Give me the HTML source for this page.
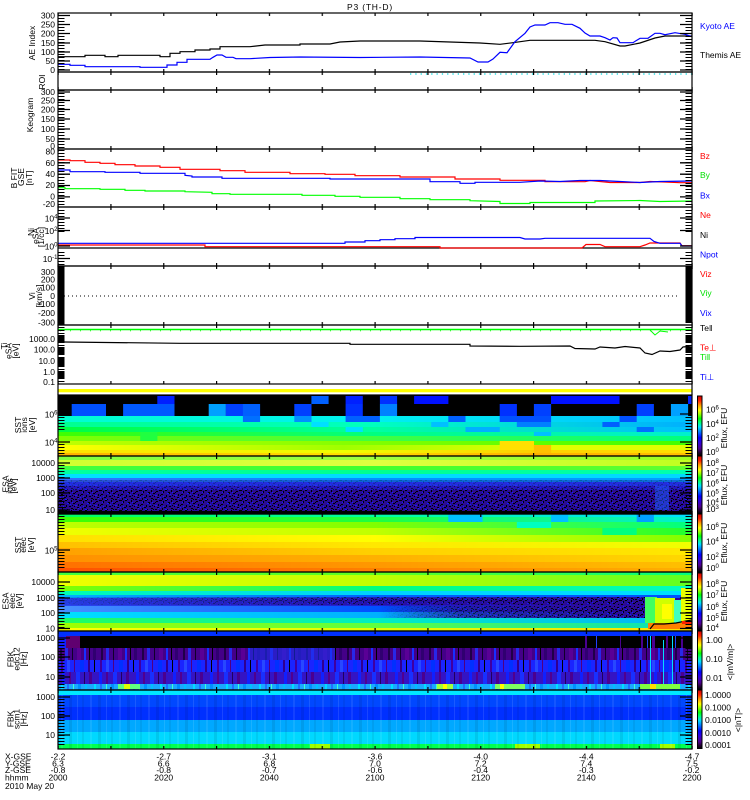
<!DOCTYPE html>
<html><head><meta charset="utf-8"><title>P3 (TH-D)</title>
<style>
html,body{margin:0;padding:0;background:#fff;width:750px;height:800px;overflow:hidden}
svg{display:block}
text{font-family:"Liberation Sans",sans-serif;font-size:8.5px;fill:#000}
</style></head><body>
<svg width="750" height="800" viewBox="0 0 750 800" xmlns="http://www.w3.org/2000/svg">
<defs>
<linearGradient id="cbar" x1="0" y1="1" x2="0" y2="0">
<stop offset="0" stop-color="#000"/><stop offset="0.05" stop-color="#200030"/><stop offset="0.12" stop-color="#500090"/>
<stop offset="0.22" stop-color="#3000e0"/><stop offset="0.3" stop-color="#0000ff"/><stop offset="0.4" stop-color="#0080ff"/>
<stop offset="0.48" stop-color="#00e0ff"/><stop offset="0.55" stop-color="#00ff80"/><stop offset="0.62" stop-color="#00ff00"/>
<stop offset="0.7" stop-color="#a0ff00"/><stop offset="0.76" stop-color="#ffff00"/><stop offset="0.84" stop-color="#ffa000"/>
<stop offset="0.92" stop-color="#ff2000"/><stop offset="1" stop-color="#d00000"/>
</linearGradient>
<pattern id="ty" x="0" y="0" width="10" height="3" patternUnits="userSpaceOnUse"><rect width="10" height="1" fill="#000"/></pattern>
<pattern id="tx" x="57.5" y="0" width="52.833" height="10" patternUnits="userSpaceOnUse"><rect width="1.2" height="10" fill="#000"/></pattern>
<pattern id="spk" x="0" y="0" width="20" height="10" patternUnits="userSpaceOnUse">
<rect width="20" height="10" fill="#260c96"/>
<g fill="#000"><rect x="0" y="0" width="2" height="1"/><rect x="3" y="1" width="1" height="2"/><rect x="5" y="0" width="2" height="1"/><rect x="8" y="2" width="2" height="1"/><rect x="11" y="0" width="1" height="2"/><rect x="13" y="3" width="2" height="1"/><rect x="16" y="1" width="2" height="1"/><rect x="18" y="4" width="1" height="2"/><rect x="1" y="4" width="2" height="1"/><rect x="6" y="5" width="1" height="2"/><rect x="9" y="6" width="2" height="1"/><rect x="14" y="6" width="1" height="1"/><rect x="17" y="7" width="2" height="1"/><rect x="2" y="8" width="1" height="2"/><rect x="4" y="7" width="2" height="1"/><rect x="11" y="8" width="2" height="1"/><rect x="15" y="9" width="2" height="1"/><rect x="7" y="9" width="1" height="1"/><rect x="19" y="0" width="1" height="1"/><rect x="12" y="5" width="1" height="1"/><rect x="9" y="3" width="1" height="1"/><rect x="15" y="2" width="1" height="1"/><rect x="0" y="5" width="1" height="1"/><rect x="13" y="9" width="1" height="1"/></g>
<g fill="#1818ff"><rect x="2" y="2" width="1" height="1"/><rect x="7" y="3" width="2" height="1"/><rect x="12" y="2" width="1" height="1"/><rect x="15" y="5" width="2" height="1"/><rect x="3" y="6" width="1" height="1"/><rect x="10" y="4" width="1" height="1"/><rect x="18" y="8" width="1" height="1"/><rect x="5" y="9" width="2" height="1"/><rect x="0" y="7" width="1" height="1"/></g>
<g fill="#500080"><rect x="4" y="3" width="1" height="1"/><rect x="9" y="0" width="1" height="1"/><rect x="14" y="1" width="1" height="1"/><rect x="17" y="3" width="1" height="1"/><rect x="8" y="8" width="1" height="1"/><rect x="13" y="7" width="1" height="1"/><rect x="1" y="9" width="1" height="1"/><rect x="16" y="6" width="1" height="1"/></g>
</pattern>
<linearGradient id="fadeIn" x1="0" x2="1" y1="0" y2="0"><stop offset="0" stop-color="#fff" stop-opacity="0.15"/><stop offset="0.45" stop-color="#fff" stop-opacity="0.6"/><stop offset="1" stop-color="#fff" stop-opacity="1"/></linearGradient>
<mask id="mfade" maskContentUnits="objectBoundingBox"><rect width="1" height="1" fill="url(#fadeIn)"/></mask>
<linearGradient id="fadeIn2" x1="0" x2="1" y1="0" y2="0"><stop offset="0" stop-color="#fff" stop-opacity="0"/><stop offset="0.3" stop-color="#fff" stop-opacity="0.7"/><stop offset="1" stop-color="#fff" stop-opacity="1"/></linearGradient>
<mask id="mfade2" maskContentUnits="objectBoundingBox"><rect width="1" height="1" fill="url(#fadeIn2)"/></mask>
<pattern id="st1" x="58" y="0" width="41" height="12" patternUnits="userSpaceOnUse"><rect width="41" height="12" fill="#440088"/><rect x="2" width="2" height="12" fill="#20004a"/><rect x="7" width="3" height="12" fill="#2828e8"/><rect x="14" width="1" height="12" fill="#10002a"/><rect x="19" width="4" height="12" fill="#5a0096"/><rect x="26" width="2" height="12" fill="#1830ff"/><rect x="31" width="1" height="12" fill="#000"/><rect x="35" width="3" height="12" fill="#300070"/></pattern>
<pattern id="st2" x="58" y="0" width="39" height="12" patternUnits="userSpaceOnUse"><rect width="39" height="12" fill="#1a24ff"/><rect x="3" width="2" height="12" fill="#4000a0"/><rect x="9" width="3" height="12" fill="#2848ff"/><rect x="16" width="1" height="12" fill="#500080"/><rect x="22" width="4" height="12" fill="#0030ff"/><rect x="30" width="2" height="12" fill="#300090"/><rect x="36" width="1" height="12" fill="#000"/></pattern>
<pattern id="st3" x="58" y="0" width="37" height="12" patternUnits="userSpaceOnUse"><rect width="37" height="12" fill="#3414c4"/><rect x="4" width="3" height="12" fill="#1020ff"/><rect x="11" width="2" height="12" fill="#500090"/><rect x="18" width="4" height="12" fill="#1830ff"/><rect x="26" width="1" height="12" fill="#200060"/><rect x="31" width="3" height="12" fill="#4a0090"/></pattern>
<pattern id="st4" x="58" y="0" width="33" height="6" patternUnits="userSpaceOnUse"><rect width="33" height="6" fill="#1aa8ff"/><rect x="3" width="2" height="6" fill="#00e0ff"/><rect x="9" width="2" height="6" fill="#2070ff"/><rect x="15" width="1" height="6" fill="#40ffd0"/><rect x="20" width="3" height="6" fill="#0090ff"/><rect x="27" width="2" height="6" fill="#00c0ff"/></pattern>
<pattern id="ss" x="58" y="0" width="29" height="12" patternUnits="userSpaceOnUse"><rect x="3" width="2" height="12" fill="#fff" opacity="0.08"/><rect x="11" width="3" height="12" fill="#000" opacity="0.08"/><rect x="19" width="1" height="12" fill="#fff" opacity="0.1"/><rect x="24" width="2" height="12" fill="#000" opacity="0.06"/></pattern>
<linearGradient id="r3"><stop offset="0" stop-color="#00ffd0"/><stop offset="0.5" stop-color="#00f0f0"/><stop offset="1" stop-color="#00c0ff"/></linearGradient>
<linearGradient id="r4"><stop offset="0" stop-color="#00ff90"/><stop offset="0.5" stop-color="#00ffc0"/><stop offset="1" stop-color="#00b0ff"/></linearGradient>
<linearGradient id="r5"><stop offset="0" stop-color="#00ff40"/><stop offset="0.5" stop-color="#00ffa0"/><stop offset="1" stop-color="#00c0ff"/></linearGradient>
<linearGradient id="r6"><stop offset="0" stop-color="#40ff00"/><stop offset="0.5" stop-color="#00ff80"/><stop offset="1" stop-color="#00f0d0"/></linearGradient>
<linearGradient id="r7"><stop offset="0" stop-color="#80ff00"/><stop offset="0.5" stop-color="#40ff40"/><stop offset="1" stop-color="#00ff80"/></linearGradient>
<linearGradient id="r8"><stop offset="0" stop-color="#c0ff00"/><stop offset="0.5" stop-color="#80ff00"/><stop offset="1" stop-color="#40ff00"/></linearGradient>
<linearGradient id="r9"><stop offset="0" stop-color="#ffff00"/><stop offset="0.45" stop-color="#a0ff00"/><stop offset="0.75" stop-color="#e0ff00"/><stop offset="1" stop-color="#e0ff00"/></linearGradient>
<linearGradient id="r10"><stop offset="0" stop-color="#ffe000"/><stop offset="0.45" stop-color="#f0ff00"/><stop offset="0.75" stop-color="#ffd000"/><stop offset="1" stop-color="#ffe000"/></linearGradient>
<linearGradient id="r11"><stop offset="0" stop-color="#ffb000"/><stop offset="0.45" stop-color="#ffe000"/><stop offset="0.75" stop-color="#ffb000"/><stop offset="1" stop-color="#ffc000"/></linearGradient>
<linearGradient id="i1"><stop offset="0" stop-color="#80ff40"/><stop offset="0.5" stop-color="#a0ff40"/><stop offset="1" stop-color="#a0ff20"/></linearGradient>
<linearGradient id="i2"><stop offset="0" stop-color="#d0ff30"/><stop offset="0.5" stop-color="#e0ff40"/><stop offset="1" stop-color="#c0ff20"/></linearGradient>
<linearGradient id="i3"><stop offset="0" stop-color="#40ff40"/><stop offset="0.5" stop-color="#40ff30"/><stop offset="1" stop-color="#60ff30"/></linearGradient>
<linearGradient id="i4"><stop offset="0" stop-color="#00ffa0"/><stop offset="0.5" stop-color="#00ff90"/><stop offset="1" stop-color="#00ffb0"/></linearGradient>
<linearGradient id="i5"><stop offset="0" stop-color="#00e0ff"/><stop offset="1" stop-color="#00d8ff"/></linearGradient>
<linearGradient id="i6"><stop offset="0" stop-color="#3070ff"/><stop offset="0.5" stop-color="#0090ff"/><stop offset="1" stop-color="#00a0ff"/></linearGradient>
<linearGradient id="e1"><stop offset="0" stop-color="#00ff60"/><stop offset="0.5" stop-color="#00ffa0"/><stop offset="1" stop-color="#00e0ff"/></linearGradient>
<linearGradient id="e2"><stop offset="0" stop-color="#40ff00"/><stop offset="0.5" stop-color="#20ff40"/><stop offset="1" stop-color="#00f0d0"/></linearGradient>
<linearGradient id="e3"><stop offset="0" stop-color="#c0ff00"/><stop offset="0.5" stop-color="#80ff00"/><stop offset="1" stop-color="#00ff80"/></linearGradient>
<linearGradient id="e4"><stop offset="0" stop-color="#f0ff00"/><stop offset="0.5" stop-color="#c0ff00"/><stop offset="1" stop-color="#20ff30"/></linearGradient>
<linearGradient id="e5"><stop offset="0" stop-color="#ffe000"/><stop offset="0.5" stop-color="#ffff00"/><stop offset="1" stop-color="#80ff00"/></linearGradient>
<linearGradient id="e6"><stop offset="0" stop-color="#ffc000"/><stop offset="0.5" stop-color="#ffe800"/><stop offset="1" stop-color="#f0ff00"/></linearGradient>
<linearGradient id="e7"><stop offset="0" stop-color="#ffa000"/><stop offset="0.5" stop-color="#ffd000"/><stop offset="1" stop-color="#ffe800"/></linearGradient>
<linearGradient id="e8"><stop offset="0" stop-color="#ff9000"/><stop offset="0.5" stop-color="#ffb000"/><stop offset="1" stop-color="#ffd800"/></linearGradient>
<linearGradient id="e9"><stop offset="0" stop-color="#ff7000"/><stop offset="0.5" stop-color="#ff9800"/><stop offset="1" stop-color="#ffc000"/></linearGradient>
<linearGradient id="e10"><stop offset="0" stop-color="#ff5000"/><stop offset="0.5" stop-color="#ff8000"/><stop offset="1" stop-color="#ffb000"/></linearGradient>
<linearGradient id="a1"><stop offset="0" stop-color="#40ff40"/><stop offset="0.5" stop-color="#60ff20"/><stop offset="1" stop-color="#00ff80"/></linearGradient>
<linearGradient id="a2"><stop offset="0" stop-color="#f0ff00"/><stop offset="0.5" stop-color="#c0ff00"/><stop offset="1" stop-color="#60ff20"/></linearGradient>
<linearGradient id="a3"><stop offset="0" stop-color="#80ff00"/><stop offset="0.5" stop-color="#00ff80"/><stop offset="1" stop-color="#00ffc0"/></linearGradient>
<linearGradient id="a4"><stop offset="0" stop-color="#00ffb0"/><stop offset="0.5" stop-color="#00d0ff"/><stop offset="1" stop-color="#00e0ff"/></linearGradient>
<linearGradient id="a5"><stop offset="0" stop-color="#00b0ff"/><stop offset="0.5" stop-color="#0060ff"/><stop offset="1" stop-color="#0050ff"/></linearGradient>
<linearGradient id="a6"><stop offset="0" stop-color="#2848f0"/><stop offset="0.5" stop-color="#2020d0"/><stop offset="1" stop-color="#300090"/></linearGradient>
<linearGradient id="a7"><stop offset="0" stop-color="#4890ff"/><stop offset="0.5" stop-color="#0050ff"/><stop offset="1" stop-color="#3010a0"/></linearGradient>
<linearGradient id="a8"><stop offset="0" stop-color="#00e0ff"/><stop offset="0.5" stop-color="#00b0ff"/><stop offset="1" stop-color="#2848e0"/></linearGradient>
<linearGradient id="a9"><stop offset="0" stop-color="#20ff60"/><stop offset="0.5" stop-color="#00f0c0"/><stop offset="1" stop-color="#00b0ff"/></linearGradient>
<linearGradient id="a10"><stop offset="0" stop-color="#a0ff00"/><stop offset="0.5" stop-color="#60ff40"/><stop offset="1" stop-color="#00e0c0"/></linearGradient>
<linearGradient id="a11"><stop offset="0" stop-color="#ffff00"/><stop offset="0.5" stop-color="#e0ff00"/><stop offset="1" stop-color="#ffe000"/></linearGradient>
</defs>
<rect width="750" height="800" fill="#fff"/>

<!-- ===== SST ion ===== -->
<rect x="58" y="395" width="634" height="21" fill="#000"/>
<g>
<rect x="157.3" y="396" width="17.2" height="8" fill="#0020ff"/>
<rect x="311.4" y="396" width="17.2" height="8" fill="#0060ff"/>
<rect x="345.6" y="396" width="17.2" height="8" fill="#0020ff"/>
<rect x="379.9" y="396" width="17.2" height="8" fill="#0030ff"/>
<rect x="414.1" y="396" width="34.3" height="8" fill="#0010ff"/>
<rect x="551" y="396" width="68.5" height="8" fill="#0010ff"/>
<rect x="688" y="396" width="4" height="8" fill="#0020ff"/>
<rect x="71.7" y="404" width="34.3" height="12" fill="#0050ff"/>
<rect x="123.1" y="404" width="51.4" height="12" fill="#0058ff"/>
<rect x="208.7" y="404" width="17.2" height="12" fill="#00a0ff"/>
<rect x="225.8" y="404" width="17.2" height="12" fill="#0040ff"/>
<rect x="242.9" y="404" width="17.2" height="12" fill="#0060ff"/>
<rect x="294.3" y="404" width="17.2" height="12" fill="#0040ff"/>
<rect x="345.6" y="404" width="17.2" height="12" fill="#0030ff"/>
<rect x="379.9" y="404" width="17.2" height="12" fill="#0080ff"/>
<rect x="499.7" y="404" width="17.2" height="12" fill="#0030ff"/>
<rect x="533.9" y="404" width="17.2" height="12" fill="#0040ff"/>
<rect x="636.7" y="404" width="17.2" height="12" fill="#0040ff"/>
<rect x="670.9" y="404" width="17.2" height="12" fill="#00a0ff"/>
</g>
<rect x="58" y="416" width="634" height="6" fill="url(#r3)"/>
<rect x="58" y="422" width="634" height="5" fill="url(#r4)"/>
<rect x="58" y="427" width="634" height="5" fill="url(#r5)"/>
<rect x="58" y="432" width="634" height="4" fill="url(#r6)"/>
<rect x="58" y="436" width="634" height="5" fill="url(#r7)"/>
<rect x="58" y="441" width="634" height="4" fill="url(#r8)"/>
<rect x="58" y="445" width="634" height="5" fill="url(#r9)"/>
<rect x="58" y="450" width="634" height="3" fill="url(#r10)"/>
<rect x="58" y="453" width="634" height="3" fill="url(#r11)"/>
<g>
<rect x="242.9" y="416" width="17.2" height="6" fill="#0070ff"/>
<rect x="294.3" y="416" width="17.2" height="6" fill="#0090ff"/>
<rect x="345.6" y="416" width="34.3" height="6" fill="#0060ff"/>
<rect x="448.3" y="416" width="17.2" height="6" fill="#0060ff"/>
<rect x="499.7" y="416" width="51.4" height="6" fill="#0050ff"/>
<rect x="619.5" y="416" width="17.2" height="6" fill="#0050ff"/>
<rect x="311.4" y="422" width="17.2" height="5" fill="#00e0ff"/>
<rect x="431.2" y="422" width="17.2" height="5" fill="#00c0ff"/>
<rect x="516.8" y="422" width="34.3" height="5" fill="#0080ff"/>
<rect x="602.4" y="422" width="17.2" height="5" fill="#0060ff"/>
<rect x="345.6" y="427" width="17.2" height="5" fill="#00e0ff"/>
<rect x="465.5" y="427" width="34.3" height="5" fill="#00b0ff"/>
<rect x="636.7" y="427" width="17.2" height="5" fill="#0070ff"/>
<rect x="533.9" y="432" width="17.2" height="4" fill="#00c0ff"/>
<rect x="140.2" y="432" width="17.2" height="9" fill="#20ff40"/>
<rect x="499.7" y="441" width="34.3" height="9" fill="#ffe000"/>
<rect x="533.9" y="445" width="17.2" height="8" fill="#ffc000"/>
</g>

<!-- ===== ESA ion ===== -->
<rect x="58" y="456" width="634" height="4" fill="url(#i1)"/>
<rect x="58" y="460" width="634" height="6" fill="url(#i2)"/>
<rect x="58" y="466" width="634" height="4" fill="url(#i3)"/>
<rect x="58" y="470" width="634" height="4" fill="url(#i4)"/>
<rect x="58" y="474" width="634" height="4" fill="url(#i5)"/>
<rect x="58" y="478" width="634" height="4" fill="url(#i6)"/>
<rect x="58" y="482" width="634" height="4" fill="#2040ff"/>
<rect x="58" y="480" width="634" height="6" fill="url(#spk)" opacity="0.35"/>
<rect x="58" y="486" width="634" height="26" fill="url(#spk)"/>
<rect x="58" y="486" width="634" height="4" fill="#2030ff" opacity="0.35"/>
<rect x="655" y="486" width="14" height="24" fill="#2060ff" opacity="0.5"/>
<rect x="58" y="511" width="634" height="3" fill="#000"/>

<!-- ===== SST elec ===== -->
<rect x="58" y="514" width="634" height="3" fill="url(#e1)"/>
<rect x="58" y="517" width="634" height="5" fill="url(#e2)"/>
<rect x="58" y="522" width="634" height="6" fill="url(#e3)"/>
<rect x="58" y="528" width="634" height="7" fill="url(#e4)"/>
<rect x="58" y="535" width="634" height="7" fill="url(#e5)"/>
<rect x="58" y="542" width="634" height="6" fill="url(#e6)"/>
<rect x="58" y="548" width="634" height="7" fill="url(#e7)"/>
<rect x="58" y="555" width="634" height="7" fill="url(#e8)"/>
<rect x="58" y="562" width="634" height="6" fill="url(#e9)"/>
<rect x="58" y="568" width="634" height="4" fill="url(#e10)"/>
<g>
<rect x="448.3" y="514" width="34.3" height="8" fill="#00c0ff"/>
<rect x="551" y="514" width="17.2" height="8" fill="#00c0ff"/>
<rect x="636.7" y="514" width="17.2" height="8" fill="#00a0ff"/>
<rect x="516.8" y="522" width="34.3" height="6" fill="#00ffc0"/>
<rect x="602.4" y="528" width="34.3" height="7" fill="#00ff80"/>
</g>

<!-- ===== ESA elec ===== -->
<rect x="58" y="572" width="634" height="3" fill="url(#a1)"/>
<rect x="58" y="575" width="634" height="11" fill="url(#a2)"/>
<rect x="58" y="586" width="634" height="5" fill="url(#a3)"/>
<rect x="58" y="591" width="634" height="4" fill="url(#a4)"/>
<rect x="58" y="595" width="634" height="3" fill="url(#a5)"/>
<rect x="58" y="598" width="634" height="8" fill="url(#a6)"/>
<rect x="58" y="606" width="634" height="6" fill="url(#a7)"/>
<rect x="58" y="612" width="634" height="6" fill="url(#a8)"/>
<rect x="58" y="618" width="634" height="5" fill="url(#a9)"/>
<rect x="58" y="623" width="634" height="5" fill="url(#a10)"/>
<rect x="58" y="628" width="634" height="3" fill="url(#a11)"/>
<rect x="58" y="597" width="587" height="8" fill="url(#spk)" mask="url(#mfade)"/>
<rect x="380" y="606" width="265" height="12" fill="url(#spk)" mask="url(#mfade2)"/>
<g>
<rect x="645" y="597" width="12" height="26" fill="#40ff60"/>
<rect x="655" y="598" width="20" height="25" fill="#d0ff00"/>
<rect x="662" y="604" width="10" height="15" fill="#ffff00"/>
<rect x="674" y="600" width="7" height="23" fill="#40ffc0"/>
<rect x="681" y="588" width="11" height="36" fill="#e8ff00"/>
<rect x="648" y="623" width="44" height="6" fill="#ff8000"/>
<polyline points="650,629 654,624 664,624 676,623 686,621 692,620" fill="none" stroke="#000" stroke-width="1.2"/>
<rect x="682" y="621" width="10" height="3" fill="#ff2000"/>
</g>

<!-- ===== FBK edc12 ===== -->
<rect x="58" y="631" width="634" height="5" fill="#0030ff"/>
<rect x="58" y="636" width="634" height="12" fill="#000"/>
<rect x="58" y="636" width="8" height="12" fill="#1020ff"/>
<rect x="66" y="636" width="14" height="12" fill="#600070"/>
<g fill="#4a0090"><rect x="585" y="636" width="2" height="12"/><rect x="620" y="636" width="1" height="12"/><rect x="641" y="636" width="2" height="12"/><rect x="652" y="636" width="3" height="12"/><rect x="666" y="636" width="2" height="12"/><rect x="681" y="636" width="2" height="12"/></g>
<g fill="#2040ff"><rect x="596" y="636" width="1" height="12"/><rect x="647" y="636" width="1" height="12"/><rect x="675" y="636" width="1" height="12"/></g>
<rect x="58" y="648" width="634" height="12" fill="url(#st1)"/>
<rect x="250" y="648" width="85" height="12" fill="#1a30f0" opacity="0.6"/>
<rect x="58" y="660" width="634" height="12" fill="url(#st2)"/>
<rect x="58" y="672" width="634" height="12" fill="url(#st3)"/>
<rect x="58" y="684" width="634" height="6" fill="url(#st4)"/>
<g>
<rect x="118" y="684" width="22" height="5" fill="#60ff80"/><rect x="124" y="684" width="6" height="5" fill="#e0ff00"/>
<rect x="437" y="684" width="16" height="5" fill="#a0ff40"/><rect x="443" y="684" width="4" height="5" fill="#ffff00"/>
<rect x="495" y="684" width="30" height="5" fill="#80ff60"/><rect x="500" y="684" width="4" height="5" fill="#ffff00"/>
<rect x="640" y="684" width="40" height="5" fill="#80ff40"/><rect x="650" y="684" width="6" height="5" fill="#ffe000"/>
</g>
<g fill="#00e0ff"><rect x="650" y="636" width="1" height="48"/><rect x="663" y="640" width="1" height="44"/><rect x="672" y="636" width="1" height="48"/></g>

<!-- ===== FBK scm1 ===== -->
<rect x="58" y="690" width="634" height="5" fill="#00e8ff"/>
<rect x="58" y="695" width="634" height="12" fill="#0048ff"/>
<rect x="58" y="707" width="634" height="13" fill="#0030ff"/>
<rect x="58" y="720" width="634" height="12" fill="#00a8ff"/>
<rect x="58" y="732" width="634" height="12" fill="#00d8ff"/>
<rect x="58" y="744" width="634" height="5" fill="#00ff50"/>
<rect x="58" y="695" width="634" height="49" fill="url(#ss)"/>
<g fill="#a0ff00"><rect x="310" y="744" width="20" height="5"/><rect x="515" y="744" width="25" height="5"/><rect x="660" y="744" width="15" height="5"/></g>
<rect x="58" y="744" width="634" height="5" fill="url(#ss)"/>

<!-- ===== yellow bar ===== -->
<rect x="58" y="389" width="634" height="3.3" fill="#ffff00"/>

<!-- ===== AE lines ===== -->
<polyline fill="none" stroke="#000" stroke-width="1.2" points="58,56.7 85,56.7 85,55.3 105,55.3 105,56.7 118,56.7 118,55.3 160,55.3 160,56.7 170,56.7 170,53.3 180,53.3 180,51.7 195,51.7 195,50 210,50 210,49 220,49 220,46.7 250,46.7 265,45 300,45 300,44 330,44 340,42 360,41 420,41 450,42 480,43 500,44.3 513,42.7 530,40.3 595,40.3 605,41.7 620,46 625,46 640,43 655,38 665,36 692,36"/>
<polyline fill="none" stroke="#0000ff" stroke-width="1.2" points="58,64.3 70,64.3 70,65.3 85,65.3 85,66.7 140,66.7 140,67.3 167,67.3 167,65 177,65 177,62.3 187,62.3 187,59.3 210,59.3 213,57.3 217,55 222,55 226,57.3 233,57.3 236,58.7 250,58.7 270,57.5 300,57 360,57.5 420,57 470,58 478,62 488,62 493,59 500,52.3 507,52.7 515,41.7 525,33.3 530,27 535,25 545,25 550,22.7 558,22.7 565,24.3 572,24.3 580,28.3 585,33 590,36 600,36 605,37.7 610,40 613,37.7 617,38 620,42.7 633,42.7 636,40.7 640,38.3 648,38.3 655,33.3 660,33.3 665,34.7 675,32.7 685,34.3 692,36.7"/>
<line x1="410" y1="74" x2="692" y2="74" stroke="#00d8e0" stroke-width="1.3" stroke-dasharray="1.3 4"/>

<!-- ===== B lines ===== -->
<polyline fill="none" stroke="#ff0000" stroke-width="1.2" points="58,160 70,160 70,160.7 85,160.7 85,162.3 100,162.3 100,163.3 115,163.3 115,164.7 135,164.7 135,166 160,166 160,167.3 180,167.3 180,169.3 220,169.3 220,170.7 245,170.7 245,172.3 290,172.3 290,173.7 325,173.7 325,174.3 355,174.3 355,175.7 400,175.7 400,177 455,177 455,179 500,179 500,180.3 545,180.3 545,181.7 585,181.7 590,180.5 600,181.5 610,182.5 640,182.5 650,181.5 665,182 680,182.7 692,182.7"/>
<polyline fill="none" stroke="#0000ff" stroke-width="1.2" points="58,170 70,170 70,171.7 105,171.7 105,172.3 140,172.3 140,173.3 185,173.3 185,175.3 192,176 192,177 222,177 222,178.3 330,178.3 330,179 430,179 430,181.7 460,181.7 460,183.3 475,183.3 475,182.3 520,182.3 540,181 560,181.5 580,180.5 600,180.5 620,181.5 640,182.5 660,181.5 692,181"/>
<polyline fill="none" stroke="#00ff00" stroke-width="1.2" points="58,187.7 65,187.7 65,188.7 100,188.7 100,189.3 125,189.3 125,190.3 145,190.3 145,191 185,191 185,191.7 212,192.3 212,193.7 230,193.7 230,194.3 302,194.3 302,195.3 335,195.3 335,196.3 360,196.3 360,197.3 400,197.3 400,198.7 430,198.7 430,199.7 470,199.7 470,200.7 500,201.5 500,203.5 530,203.5 530,202.5 595,202.5 595,201 640,200.5 660,201.5 692,201"/>

<!-- ===== Ni lines ===== -->
<line x1="58" y1="248" x2="692" y2="248" stroke="#000" stroke-width="1.2"/>
<polyline fill="none" stroke="#ff0000" stroke-width="1.2" points="58,245 205,245 205,246.7 440,246.7 440,248 582,248 586,244.5 600,244.5 605,246.7 640,246.7 645,245 650,243 680,243 682,245.7 692,245.7"/>
<polyline fill="none" stroke="#0000ff" stroke-width="1.2" points="58,243.3 345,243.3 345,242 365,242 365,240.7 380,240.7 380,239.7 395,239.7 395,238.7 415,238.7 415,237.5 520,237.5 525,239 540,239 545,238.3 650,238.3 654,241.5 660,243.3 680,243.3 682,246 692,246"/>

<!-- ===== Vi ===== -->
<line x1="64" y1="296" x2="678" y2="296" stroke="#000" stroke-width="1" stroke-dasharray="1 3"/>
<rect x="58" y="266" width="6.5" height="59" fill="#000"/>
<rect x="685.5" y="266" width="6.5" height="57" fill="#000"/>

<!-- ===== Ti ===== -->
<line x1="58" y1="329.5" x2="692" y2="329.5" stroke="#00ff00" stroke-width="1.6"/>
<line x1="60" y1="330.8" x2="690" y2="330.8" stroke="#00ff00" stroke-width="0.8" stroke-dasharray="1 9"/>
<polyline fill="none" stroke="#00ff00" stroke-width="1" points="650,330 655,335 660,331 668,332"/>
<polyline fill="none" stroke="#000" stroke-width="1.2" points="64,342 180,343.3 350,343.3 350,344.3 470,344.3 470,346 520,346.3 570,346 575,348.5 595,349 600,347 615,348 625,346.5 640,348 645,353 652,354.5 660,351 670,351.5 680,350 683,347 692,346"/>
<g fill="#000"><rect x="58" y="335" width="6.5" height="7"/><rect x="58" y="347" width="6.5" height="7"/><rect x="58" y="358" width="6.5" height="8"/><rect x="58" y="371" width="6.5" height="7"/>
<rect x="685.5" y="335" width="6.5" height="8"/><rect x="685.5" y="347" width="6.5" height="6"/><rect x="685.5" y="357" width="6.5" height="9"/><rect x="685.5" y="371" width="6.5" height="8"/></g>

<!-- ===== minor y ticks (left & right) ===== -->
<g fill="url(#ty)">
<rect x="58" y="13" width="6.5" height="59"/><rect x="685.5" y="13" width="6.5" height="59"/>
<rect x="58" y="90" width="6.5" height="59"/><rect x="685.5" y="90" width="6.5" height="59"/>
<rect x="58" y="149" width="6.5" height="58"/><rect x="685.5" y="149" width="6.5" height="58"/>
<rect x="58" y="208" width="6.5" height="12"/><rect x="685.5" y="208" width="6.5" height="12"/>
<rect x="58" y="222" width="6.5" height="10"/><rect x="685.5" y="222" width="6.5" height="10"/>
<rect x="58" y="250" width="6.5" height="15"/><rect x="685.5" y="250" width="6.5" height="15"/>
<rect x="58" y="325" width="6.5" height="59"/><rect x="685.5" y="325" width="6.5" height="59"/>
<rect x="58" y="416" width="6.5" height="15"/><rect x="685.5" y="416" width="6.5" height="15"/>
<rect x="58" y="443" width="6.5" height="12"/><rect x="685.5" y="443" width="6.5" height="12"/>
<rect x="58" y="463" width="6.5" height="48"/><rect x="685.5" y="463" width="6.5" height="48"/>
<rect x="58" y="515" width="6.5" height="22"/><rect x="685.5" y="515" width="6.5" height="22"/>
<rect x="58" y="552" width="6.5" height="18"/><rect x="685.5" y="552" width="6.5" height="18"/>
<rect x="58" y="583" width="6.5" height="46"/><rect x="685.5" y="583" width="6.5" height="46"/>
<rect x="58" y="639" width="6.5" height="49"/><rect x="685.5" y="639" width="6.5" height="49"/>
<rect x="58" y="698" width="6.5" height="49"/><rect x="685.5" y="698" width="6.5" height="49"/>
</g>
<!-- major y ticks -->
<g stroke="#000" stroke-width="1.3">
<path d="M58 15.5h12M58 24.5h12M58 33.5h12M58 43h12M58 52h12M58 61h12M58 70h12M680 15.5h12M680 24.5h12M680 33.5h12M680 43h12M680 52h12M680 61h12M680 70h12"/>
<path d="M58 92h12M58 100.5h12M58 109.5h12M58 119h12M58 129h12M58 139h12M680 92h12M680 100.5h12M680 109.5h12M680 119h12M680 129h12M680 139h12"/>
<path d="M58 162.8h12M58 174.2h12M58 185.5h12M58 196.9h12M680 162.8h12M680 174.2h12M680 185.5h12M680 196.9h12"/>
<path d="M58 218h12M58 230.5h12M58 246h12M58 258.5h12M680 218h12M680 230.5h12M680 246h12M680 258.5h12"/>
<path d="M58 414h12M58 442h12M680 414h12M680 442h12"/>
<path d="M58 463h12M58 478h12M58 493h12M58 510h12M680 463h12M680 478h12M680 493h12M680 510h12"/>
<path d="M58 550h12M680 550h12"/>
<path d="M58 582h12M58 598h12M58 613h12M58 628.5h12M680 582h12M680 598h12M680 613h12M680 628.5h12"/>
<path d="M58 638h12M58 657h12M58 677h12M680 638h12M680 657h12M680 677h12"/>
<path d="M58 697h12M58 716h12M58 735h12M680 697h12M680 716h12M680 735h12"/>
</g>

<!-- ===== x ticks ===== -->
<g fill="url(#tx)">
<rect x="57.5" y="13" width="636" height="3"/><rect x="57.5" y="69" width="636" height="3"/>
<rect x="57.5" y="72" width="636" height="3"/><rect x="57.5" y="87" width="636" height="3"/>
<rect x="57.5" y="90" width="636" height="3"/><rect x="57.5" y="146" width="636" height="3"/>
<rect x="57.5" y="149" width="636" height="3"/><rect x="57.5" y="204" width="636" height="3"/>
<rect x="57.5" y="207" width="636" height="3"/><rect x="57.5" y="263" width="636" height="3"/>
<rect x="57.5" y="266" width="636" height="3"/><rect x="57.5" y="322" width="636" height="3"/>
<rect x="57.5" y="325" width="636" height="3"/><rect x="57.5" y="381" width="636" height="3"/>
<rect x="57.5" y="453" width="636" height="3"/><rect x="57.5" y="456" width="636" height="3"/>
<rect x="57.5" y="511" width="636" height="3"/><rect x="57.5" y="514" width="636" height="3"/>
<rect x="57.5" y="569" width="636" height="3"/><rect x="57.5" y="572" width="636" height="3"/>
<rect x="57.5" y="628" width="636" height="3"/><rect x="57.5" y="631" width="636" height="3"/>
<rect x="57.5" y="687" width="636" height="3"/><rect x="57.5" y="690" width="636" height="3"/>
<rect x="57.5" y="746" width="636" height="3"/>
</g>

<!-- ===== panel frames ===== -->
<g fill="none" stroke="#000" stroke-width="1.2">
<rect x="58" y="13" width="634" height="59"/>
<rect x="58" y="72" width="634" height="18"/>
<rect x="58" y="90" width="634" height="59"/>
<rect x="58" y="149" width="634" height="58"/>
<rect x="58" y="207" width="634" height="59"/>
<rect x="58" y="266" width="634" height="59"/>
<rect x="58" y="325" width="634" height="59"/>
<line x1="58" y1="384" x2="58" y2="395"/><line x1="692" y1="384" x2="692" y2="395"/>
<rect x="58" y="395" width="634" height="61"/>
<rect x="58" y="456" width="634" height="58"/>
<rect x="58" y="514" width="634" height="58"/>
<rect x="58" y="572" width="634" height="59"/>
<rect x="58" y="631" width="634" height="59"/>
<rect x="58" y="690" width="634" height="59"/>
</g>

<!-- ===== colorbars ===== -->
<g stroke="#000" stroke-width="1">
<rect x="697.5" y="396" width="4.5" height="59.5" fill="url(#cbar)"/>
<rect x="697.5" y="456" width="4.5" height="57.5" fill="url(#cbar)"/>
<rect x="697.5" y="514" width="4.5" height="58" fill="url(#cbar)"/>
<rect x="697.5" y="573" width="4.5" height="57.5" fill="url(#cbar)"/>
<rect x="697.5" y="631" width="4.5" height="58.5" fill="url(#cbar)"/>
<rect x="697.5" y="690" width="4.5" height="58.5" fill="url(#cbar)"/>
</g>

<!-- ===== texts ===== -->
<text x="370" y="10" font-size="13" text-anchor="middle" letter-spacing="0.8">P3 (TH-D)</text>

<g text-anchor="end">
<text x="55" y="18.5">300</text><text x="55" y="27.5">250</text><text x="55" y="36.5">200</text><text x="55" y="46">150</text><text x="55" y="55">100</text><text x="55" y="64">50</text><text x="55" y="73">0</text>
<text x="55" y="95">300</text><text x="55" y="103.5">250</text><text x="55" y="112.5">200</text><text x="55" y="122">150</text><text x="55" y="132">100</text><text x="55" y="142">50</text><text x="55" y="149">0</text>
<text x="55" y="154.5">80</text><text x="55" y="166">60</text><text x="55" y="177">40</text><text x="55" y="188">20</text><text x="55" y="199.5">0</text><text x="55" y="207">-20</text>
<text x="57.5" y="221.5">10<tspan dy="-3" font-size="6">4</tspan></text>
<text x="57.5" y="234">10<tspan dy="-3" font-size="6">2</tspan></text>
<text x="57.5" y="249.5">10<tspan dy="-3" font-size="6">0</tspan></text>
<text x="57.5" y="262">10<tspan dy="-3" font-size="6">-1</tspan></text>
<text x="55" y="275">300</text><text x="55" y="282.5">200</text><text x="55" y="290.5">100</text><text x="55" y="299">0</text><text x="55" y="307">-100</text><text x="55" y="316">-200</text><text x="55" y="325.5">-300</text>
<text x="55" y="342">1000.0</text><text x="55" y="352.5">100.0</text><text x="55" y="364">10.0</text><text x="55" y="375">1.0</text><text x="55" y="385">0.1</text>
<text x="57.5" y="417.5">10<tspan dy="-3" font-size="6">6</tspan></text>
<text x="57.5" y="445.5">10<tspan dy="-3" font-size="6">4</tspan></text>
<text x="55" y="466">10000</text><text x="55" y="481">1000</text><text x="55" y="496">100</text><text x="55" y="513">10</text>
<text x="57.5" y="553.5">10<tspan dy="-3" font-size="6">5</tspan></text>
<text x="55" y="585">10000</text><text x="55" y="601">1000</text><text x="55" y="616">100</text><text x="55" y="631.5">10</text>
<text x="55" y="641">1000</text><text x="55" y="660">100</text><text x="55" y="680">10</text>
<text x="55" y="700">1000</text><text x="55" y="719">100</text><text x="55" y="738">10</text>
</g>

<!-- left titles -->
<text transform="translate(35,43) rotate(-90)" text-anchor="middle" font-size="9">AE Index</text>
<text transform="translate(45,82) rotate(-90)" text-anchor="middle" font-size="9">ROI</text>
<text transform="translate(33,115) rotate(-90)" text-anchor="middle" font-size="9">Keogram</text>
<text transform="translate(17,178) rotate(-90)" text-anchor="middle" font-size="8">B FIT</text>
<text transform="translate(24,177) rotate(-90)" text-anchor="middle" font-size="6.5">GSE</text>
<text transform="translate(32,178) rotate(-90)" text-anchor="middle" font-size="9">[nT]</text>
<text transform="translate(34,232) rotate(-90)" text-anchor="middle" font-size="8">Ni</text>
<text transform="translate(38.5,236) rotate(-90)" text-anchor="middle" font-size="6">eSA</text>
<text transform="translate(44,237) rotate(-90)" text-anchor="middle" font-size="8.5">[1/cc]</text>
<text transform="translate(35,296) rotate(-90)" text-anchor="middle" font-size="8.5">Vi</text>
<text transform="translate(42,296) rotate(-90)" text-anchor="middle" font-size="8.5">[km/s]</text>
<text transform="translate(7,346) rotate(-90)" text-anchor="middle" font-size="8.5">Ti</text>
<text transform="translate(11.5,351) rotate(-90)" text-anchor="middle" font-size="6">eSA</text>
<text transform="translate(18.5,351) rotate(-90)" text-anchor="middle" font-size="8.5">[eV]</text>
<text transform="translate(21,425) rotate(-90)" text-anchor="middle" font-size="8">SST</text>
<text transform="translate(27,425) rotate(-90)" text-anchor="middle" font-size="6">ions</text>
<text transform="translate(35,425) rotate(-90)" text-anchor="middle" font-size="8.5">[eV]</text>
<text transform="translate(8.5,484) rotate(-90)" text-anchor="middle" font-size="8">ESA</text>
<text transform="translate(12.5,486) rotate(-90)" text-anchor="middle" font-size="5.5">ions</text>
<text transform="translate(16.5,486) rotate(-90)" text-anchor="middle" font-size="8">[eV]</text>
<text transform="translate(21,545) rotate(-90)" text-anchor="middle" font-size="8">SST</text>
<text transform="translate(26,545) rotate(-90)" text-anchor="middle" font-size="6">elec</text>
<text transform="translate(34,545) rotate(-90)" text-anchor="middle" font-size="8.5">[eV]</text>
<text transform="translate(8.5,601) rotate(-90)" text-anchor="middle" font-size="8">ESA</text>
<text transform="translate(15,601) rotate(-90)" text-anchor="middle" font-size="6">elec</text>
<text transform="translate(22,601) rotate(-90)" text-anchor="middle" font-size="8">[eV]</text>
<text transform="translate(13.5,659) rotate(-90)" text-anchor="middle" font-size="8">FBK</text>
<text transform="translate(19.5,659) rotate(-90)" text-anchor="middle" font-size="6">edc12</text>
<text transform="translate(26.5,659) rotate(-90)" text-anchor="middle" font-size="8">[Hz]</text>
<text transform="translate(13.5,719) rotate(-90)" text-anchor="middle" font-size="8">FBK</text>
<text transform="translate(19.5,719) rotate(-90)" text-anchor="middle" font-size="6">scm1</text>
<text transform="translate(26.5,719) rotate(-90)" text-anchor="middle" font-size="8">[Hz]</text>

<!-- right legend labels -->
<text x="700" y="29" style="fill:#0000ff">Kyoto AE</text>
<text x="700" y="58">Themis AE</text>
<text x="700" y="159" style="fill:#ff0000">Bz</text>
<text x="700" y="178" style="fill:#00e000">By</text>
<text x="700" y="198.5" style="fill:#0000ff">Bx</text>
<text x="700" y="218" style="fill:#ff0000">Ne</text>
<text x="700" y="238">Ni</text>
<text x="700" y="257.5" style="fill:#0000ff">Npot</text>
<text x="700" y="277" style="fill:#ff0000">Viz</text>
<text x="700" y="296" style="fill:#00e000">Viy</text>
<text x="700" y="316" style="fill:#0000ff">Vix</text>
<text x="700" y="331">Te‖</text>
<text x="700" y="350.5" style="fill:#ff0000">Te⊥</text>
<text x="700" y="360" style="fill:#00e000">Ti‖</text>
<text x="700" y="380" style="fill:#0000ff">Ti⊥</text>

<!-- colorbar labels -->
<g font-size="8.5">
<text x="706" y="412.5">10<tspan dy="-3" font-size="6">6</tspan></text>
<text x="706" y="427">10<tspan dy="-3" font-size="6">4</tspan></text>
<text x="706" y="441">10<tspan dy="-3" font-size="6">2</tspan></text>
<text x="706" y="455">10<tspan dy="-3" font-size="6">0</tspan></text>
<text x="706" y="466">10<tspan dy="-3" font-size="6">8</tspan></text>
<text x="706" y="476">10<tspan dy="-3" font-size="6">7</tspan></text>
<text x="706" y="486.5">10<tspan dy="-3" font-size="6">6</tspan></text>
<text x="706" y="496.5">10<tspan dy="-3" font-size="6">5</tspan></text>
<text x="706" y="505.5">10<tspan dy="-3" font-size="6">4</tspan></text>
<text x="706" y="512">10<tspan dy="-3" font-size="6">3</tspan></text>
<text x="706" y="530">10<tspan dy="-3" font-size="6">6</tspan></text>
<text x="706" y="544.5">10<tspan dy="-3" font-size="6">4</tspan></text>
<text x="706" y="560">10<tspan dy="-3" font-size="6">2</tspan></text>
<text x="706" y="571">10<tspan dy="-3" font-size="6">0</tspan></text>
<text x="706" y="587">10<tspan dy="-3" font-size="6">8</tspan></text>
<text x="706" y="598">10<tspan dy="-3" font-size="6">7</tspan></text>
<text x="706" y="610">10<tspan dy="-3" font-size="6">6</tspan></text>
<text x="706" y="621">10<tspan dy="-3" font-size="6">5</tspan></text>
<text x="706" y="631">10<tspan dy="-3" font-size="6">4</tspan></text>
<text x="706" y="643">1.00</text>
<text x="706" y="662">0.10</text>
<text x="706" y="681">0.01</text>
<text x="705" y="698">1.0000</text>
<text x="705" y="710.5">0.1000</text>
<text x="705" y="723">0.0100</text>
<text x="705" y="736">0.0010</text>
<text x="705" y="748">0.0001</text>
</g>
<text transform="translate(727,428) rotate(-90)" text-anchor="middle" font-size="8.5">Eflux, EFU</text>
<text transform="translate(727,485) rotate(-90)" text-anchor="middle" font-size="8.5">Eflux, EFU</text>
<text transform="translate(727,543) rotate(-90)" text-anchor="middle" font-size="8.5">Eflux, EFU</text>
<text transform="translate(727,601) rotate(-90)" text-anchor="middle" font-size="8.5">Eflux, EFU</text>
<text transform="translate(733,662) rotate(-90)" text-anchor="middle" font-size="8.5">&lt;|mV/m|&gt;</text>
<text transform="translate(741,720) rotate(-90)" text-anchor="middle" font-size="8.5">&lt;|nT|&gt;</text>

<!-- bottom labels -->
<g font-size="8.5">
<text x="5" y="759.5">X-GSE</text>
<text x="5" y="766.5">Y-GSE</text>
<text x="5" y="773">Z-GSE</text>
<text x="5" y="780.5">hhmm</text>
<text x="5" y="789">2010 May 20</text>
</g>
<g font-size="8.5" text-anchor="middle">
<text x="58" y="759.5">-2.2</text><text x="58" y="766.5">6.3</text><text x="58" y="773">-0.8</text><text x="58" y="780.5">2000</text>
<text x="163.7" y="759.5">-2.7</text><text x="163.7" y="766.5">6.6</text><text x="163.7" y="773">-0.8</text><text x="163.7" y="780.5">2020</text>
<text x="269.3" y="759.5">-3.1</text><text x="269.3" y="766.5">6.8</text><text x="269.3" y="773">-0.7</text><text x="269.3" y="780.5">2040</text>
<text x="375" y="759.5">-3.6</text><text x="375" y="766.5">7.0</text><text x="375" y="773">-0.6</text><text x="375" y="780.5">2100</text>
<text x="480.7" y="759.5">-4.0</text><text x="480.7" y="766.5">7.2</text><text x="480.7" y="773">-0.4</text><text x="480.7" y="780.5">2120</text>
<text x="586.3" y="759.5">-4.4</text><text x="586.3" y="766.5">7.4</text><text x="586.3" y="773">-0.3</text><text x="586.3" y="780.5">2140</text>
<text x="692" y="759.5">-4.7</text><text x="692" y="766.5">7.5</text><text x="692" y="773">-0.2</text><text x="692" y="780.5">2200</text>
</g>
</svg>
</body></html>
